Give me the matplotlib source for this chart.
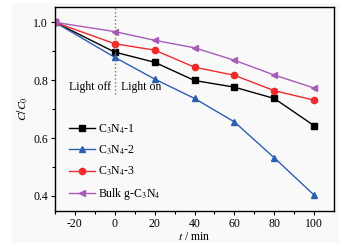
import matplotlib
matplotlib.use("Agg")
import matplotlib.pyplot as plt
from matplotlib.patches import Rectangle

plt.rcParams['font.family'] = ['Liberation Serif', 'DejaVu Serif']
plt.rcParams['mathtext.fontset'] = 'stix'
plt.rcParams['axes.unicode_minus'] = False

t = [-30, 0, 20, 40, 60, 80, 100]
c3n4_1 = [1.0, 0.897, 0.862, 0.799, 0.776, 0.737, 0.643]
c3n4_2 = [1.0, 0.879, 0.804, 0.737, 0.656, 0.532, 0.403]
c3n4_3 = [1.0, 0.926, 0.904, 0.845, 0.817, 0.764, 0.731]
bulk = [1.0, 0.968, 0.938, 0.912, 0.869, 0.818, 0.773]
labels = [r'C$_3$N$_4$-1', r'C$_3$N$_4$-2', r'C$_3$N$_4$-3', r'Bulk g-C$_3$N$_4$']

bg = '#f9f9f9'
fig = plt.figure(figsize=(3.64, 2.48), dpi=100)
fig.patch.set_facecolor('white')
fig.patches.append(Rectangle((12/364, 5/248), 327/364, 240/248, transform=fig.transFigure,
                             facecolor=bg, edgecolor='none', zorder=-10))
ax = fig.add_axes([55/364, 37/248, 279/364, 204/248])
ax.set_facecolor(bg)

ax.plot(t, c3n4_1, color='black', marker='s', ms=4.5, lw=1.0, label=labels[0])
ax.plot(t, c3n4_2, color='#2b5fb0', marker='^', ms=5, lw=1.0, label=labels[1])
ax.plot(t, c3n4_3, color='#f02a2a', marker='o', ms=4.5, lw=1.0, label=labels[2])
ax.plot(t, bulk, color='#a65cb8', marker='<', ms=5, lw=1.0, label=labels[3])

ax.plot([0, 0], [0.753, 1.06], color='#8a7d2a', ls=':', lw=1.0)
ax.text(-2, 0.775, 'Light off', ha='right', va='center', fontsize=8.5)
ax.text(3, 0.775, 'Light on', ha='left', va='center', fontsize=8.5)

ax.set_xlim(-30, 110)
ax.set_ylim(0.348, 1.053)
ax.set_xticks([-20, 0, 20, 40, 60, 80, 100])
ax.set_xticks(range(-30, 110, 10), minor=True)
ax.set_yticks([0.4, 0.6, 0.8, 1.0])
ax.set_yticks([0.5, 0.7, 0.9], minor=True)
ax.tick_params(labelsize=8.5, direction='out', length=3, width=0.8, pad=2)
ax.tick_params(which='minor', direction='out', length=2, width=0.8)
for s in ax.spines.values():
    s.set_linewidth(1.0)
ax.set_xlabel(r'$t$ / min', fontsize=8.5, labelpad=1)
ax.set_ylabel(r'$C/C_0$', fontsize=8.5, labelpad=2)

ax.legend(loc='upper left', bbox_to_anchor=(0.02, 0.475), frameon=False, fontsize=8.5,
          handlelength=2.2, labelspacing=0.65, handletextpad=0.3, borderpad=0.2)

fig.savefig('out.png', dpi=100, facecolor=fig.get_facecolor())
